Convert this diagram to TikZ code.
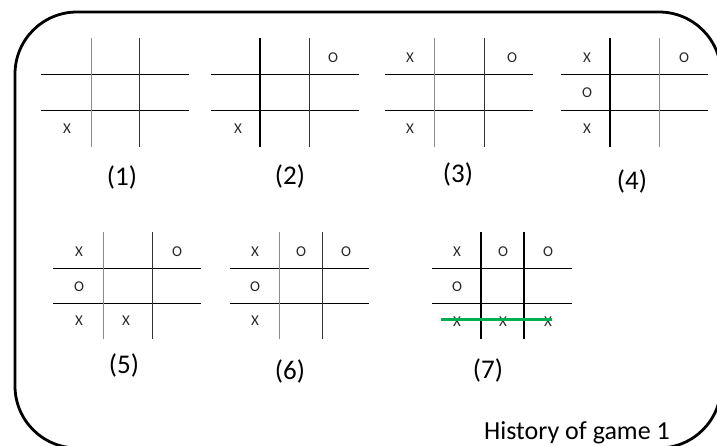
\documentclass[tikz,border=0pt]{standalone}
\usepackage{fontspec}
\setmainfont{Carlito}
\begin{document}
\begin{tikzpicture}[x=1pt,y=-1pt,
  hline/.style={line width=0.9pt,black},
  vthin/.style={line width=0.8pt,black!45},
  vmid/.style={line width=0.9pt,black!80},
  vthick/.style={line width=1.4pt,black},
  cellmark/.style={font=\fontsize{15}{15}\selectfont,inner sep=0pt,text=black!85},
  lab/.style={font=\fontsize{27}{27}\selectfont,inner sep=0pt},
  frame/.style={line width=2.8pt,black,rounded corners=62pt}]
\useasboundingbox (0,0) rectangle (717,446);
\begin{scope}
\clip (0,0) rectangle (717,446);
\draw[frame] (15,12) rectangle (721,448);
\end{scope}
% grid 1
\draw[hline] (41,74) -- (189,74) (41,110) -- (189,110);
\draw[vthin] (91,38) -- (91,147);
\draw[vmid] (139,38) -- (139,147);
\node[cellmark] (g1c) at (67,129) {X};
\node[lab] (l1) at (122,177) {(1)};
% grid 2
\draw[hline] (211,74) -- (359,74) (211,110) -- (359,110);
\draw[vthick] (260,38) -- (260,147);
\draw[vmid] (309,38) -- (309,147);
\node[cellmark] (g2a) at (333,58) {O};
\node[cellmark] (g2c) at (238,129) {X};
\node[lab] (l2) at (290,176) {(2)};
% grid 3
\draw[hline] (385,74) -- (533,74) (385,110) -- (533,110);
\draw[vthin] (434,38) -- (434,147);
\draw[vmid] (484,38) -- (484,147);
\node[cellmark] (g3a) at (410,58) {X};
\node[cellmark] (g3b) at (512,58) {O};
\node[cellmark] (g3c) at (410,129) {X};
\node[lab] (l3) at (458,174) {(3)};
% grid 4
\draw[hline] (561,74) -- (708,74) (561,110) -- (708,110);
\draw[vthick] (610,38) -- (610,147);
\draw[vthin] (659,38) -- (659,147);
\node[cellmark] (g4a) at (587,58) {X};
\node[cellmark] (g4b) at (684,58) {O};
\node[cellmark] (g4c) at (587,93) {O};
\node[cellmark] (g4d) at (587,129) {X};
\node[lab] (l4) at (632,181) {(4)};
% grid 5
\draw[hline] (53,268) -- (201,268) (53,303) -- (201,303);
\draw[vthin] (103,232) -- (103,339);
\draw[vmid] (152,232) -- (152,339);
\node[cellmark] (g5a) at (79,252) {X};
\node[cellmark] (g5b) at (177,252) {O};
\node[cellmark] (g5c) at (79,287) {O};
\node[cellmark] (g5d) at (79,321) {X};
\node[cellmark] (g5e) at (126,321) {X};
\node[lab] (l5) at (124,365) {(5)};
% grid 6
\draw[hline] (230,268) -- (369,268) (230,303) -- (369,303);
\draw[vthin] (279,232) -- (279,339);
\draw[vmid] (322,232) -- (322,339);
\node[cellmark] (g6a) at (255,252) {X};
\node[cellmark] (g6b) at (301,252) {O};
\node[cellmark] (g6c) at (346,252) {O};
\node[cellmark] (g6d) at (255,287) {O};
\node[cellmark] (g6e) at (255,321) {X};
\node[lab] (l6) at (290,371) {(6)};
% grid 7
\draw[hline] (432,268) -- (572,268) (432,303) -- (572,303);
\draw[vthick] (481,232) -- (481,339);
\draw[vthick] (524,232) -- (524,339);
\node[cellmark] (g7a) at (457,252) {X};
\node[cellmark] (g7b) at (503,252) {O};
\node[cellmark] (g7c) at (548,252) {O};
\node[cellmark] (g7d) at (457,287) {O};
\node[cellmark] (g7e) at (457,322) {X};
\node[cellmark] (g7f) at (503,322) {X};
\node[cellmark] (g7g) at (548,322) {X};
\coordinate (w1) at (441,319);
\coordinate (w2) at (552,319);
\draw[line width=3pt,color={rgb,255:red,0;green,176;blue,80}] (w1) -- (w2);
\node[lab] (l7) at (488,370) {(7)};
% caption
\node[lab,anchor=base west,font=\fontsize{26}{26}\selectfont] (cap) at (484,439) {History of game 1};
\end{tikzpicture}
\end{document}
